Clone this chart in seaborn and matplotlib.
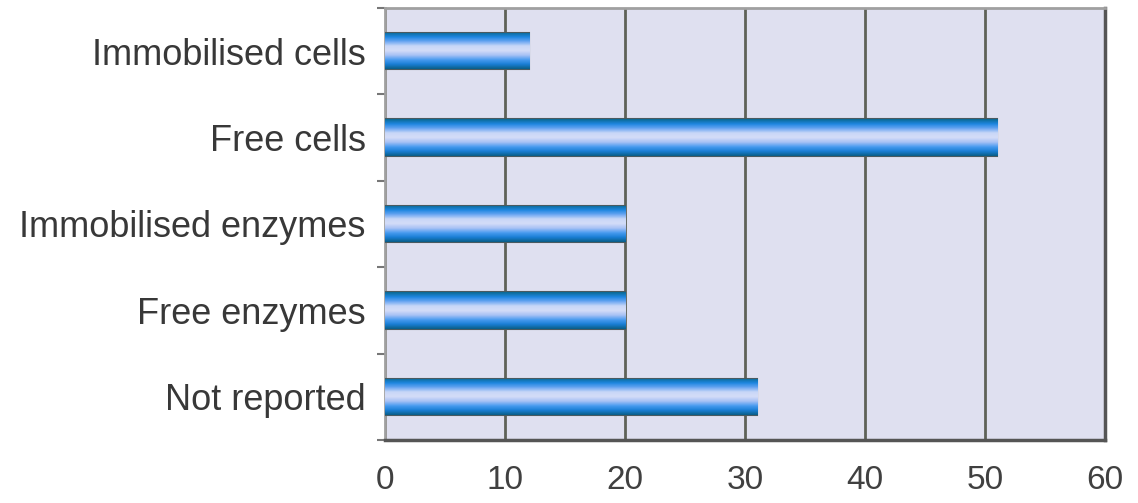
import numpy as np
import pandas as pd
import seaborn as sns
import matplotlib.pyplot as plt
from matplotlib.colors import LinearSegmentedColormap

categories = ["Immobilised cells", "Free cells", "Immobilised enzymes",
              "Free enzymes", "Not reported"]
counts = [12, 51, 20, 20, 31]
xticks = [0, 10, 20, 30, 40, 50, 60]

df = pd.DataFrame({"category": categories, "count": counts})

sns.set_style("white")
plt.rcParams['font.family'] = ['Liberation Sans', 'DejaVu Sans']

fig = plt.figure(figsize=(11.38, 5.03), dpi=100)
ax = fig.add_axes([0.3383, 0.1252, 0.6327, 0.859])
ax.set_facecolor('#dfe0f0')

sns.barplot(data=df, x="count", y="category", orient="h", width=0.42,
            color='#3a8ee0', edgecolor='#4a5a60', linewidth=1.5, ax=ax, zorder=3)

# tube-like gradient on each bar
tube = LinearSegmentedColormap.from_list("tube", [
    '#0b6a95', '#1e86e0', '#6aa6f2', '#c9d7f7', '#d4ddf8', '#a9c2f5',
    '#4b9cf0', '#1a7fd6', '#0a5f8a'])
grad = np.linspace(0, 1, 64).reshape(-1, 1)
for patch in ax.patches:
    x0, y0 = patch.get_x(), patch.get_y()
    w, h = patch.get_width(), patch.get_height()
    im = ax.imshow(grad, cmap=tube, aspect='auto', extent=(x0, x0 + w, y0 + h, y0),
                   origin='upper', zorder=3.5, interpolation='bilinear')
    im.set_clip_path(patch)

ax.set_xlim(0, 60)
ax.set_ylim(len(categories) - 0.5, -0.5)
ax.set_xticks(xticks)
ax.set_xticklabels([str(t) for t in xticks])
ax.set_yticks(range(len(categories)))
ax.set_yticks(np.arange(-0.5, len(categories), 1), minor=True)

ax.grid(axis='x', color='#5e6258', linewidth=2, zorder=1)
ax.set_axisbelow(True)
ax.set_xlabel("")
ax.set_ylabel("")

ax.tick_params(axis='x', which='major', length=8, width=1.5, color='#888888',
               labelsize=24, labelcolor='#404040', pad=10, direction='out')
ax.tick_params(axis='y', which='major', length=0, labelsize=26,
               labelcolor='#383838', pad=14)
ax.tick_params(axis='y', which='minor', length=6, width=1.5, color='#777777',
               direction='out', left=True)

for side in ['top', 'left']:
    ax.spines[side].set_color('#a0a0a0')
    ax.spines[side].set_linewidth(2)
for side in ['bottom', 'right']:
    ax.spines[side].set_color('#555555')
    ax.spines[side].set_linewidth(2.5)

fig.savefig("out.png", dpi=100)
